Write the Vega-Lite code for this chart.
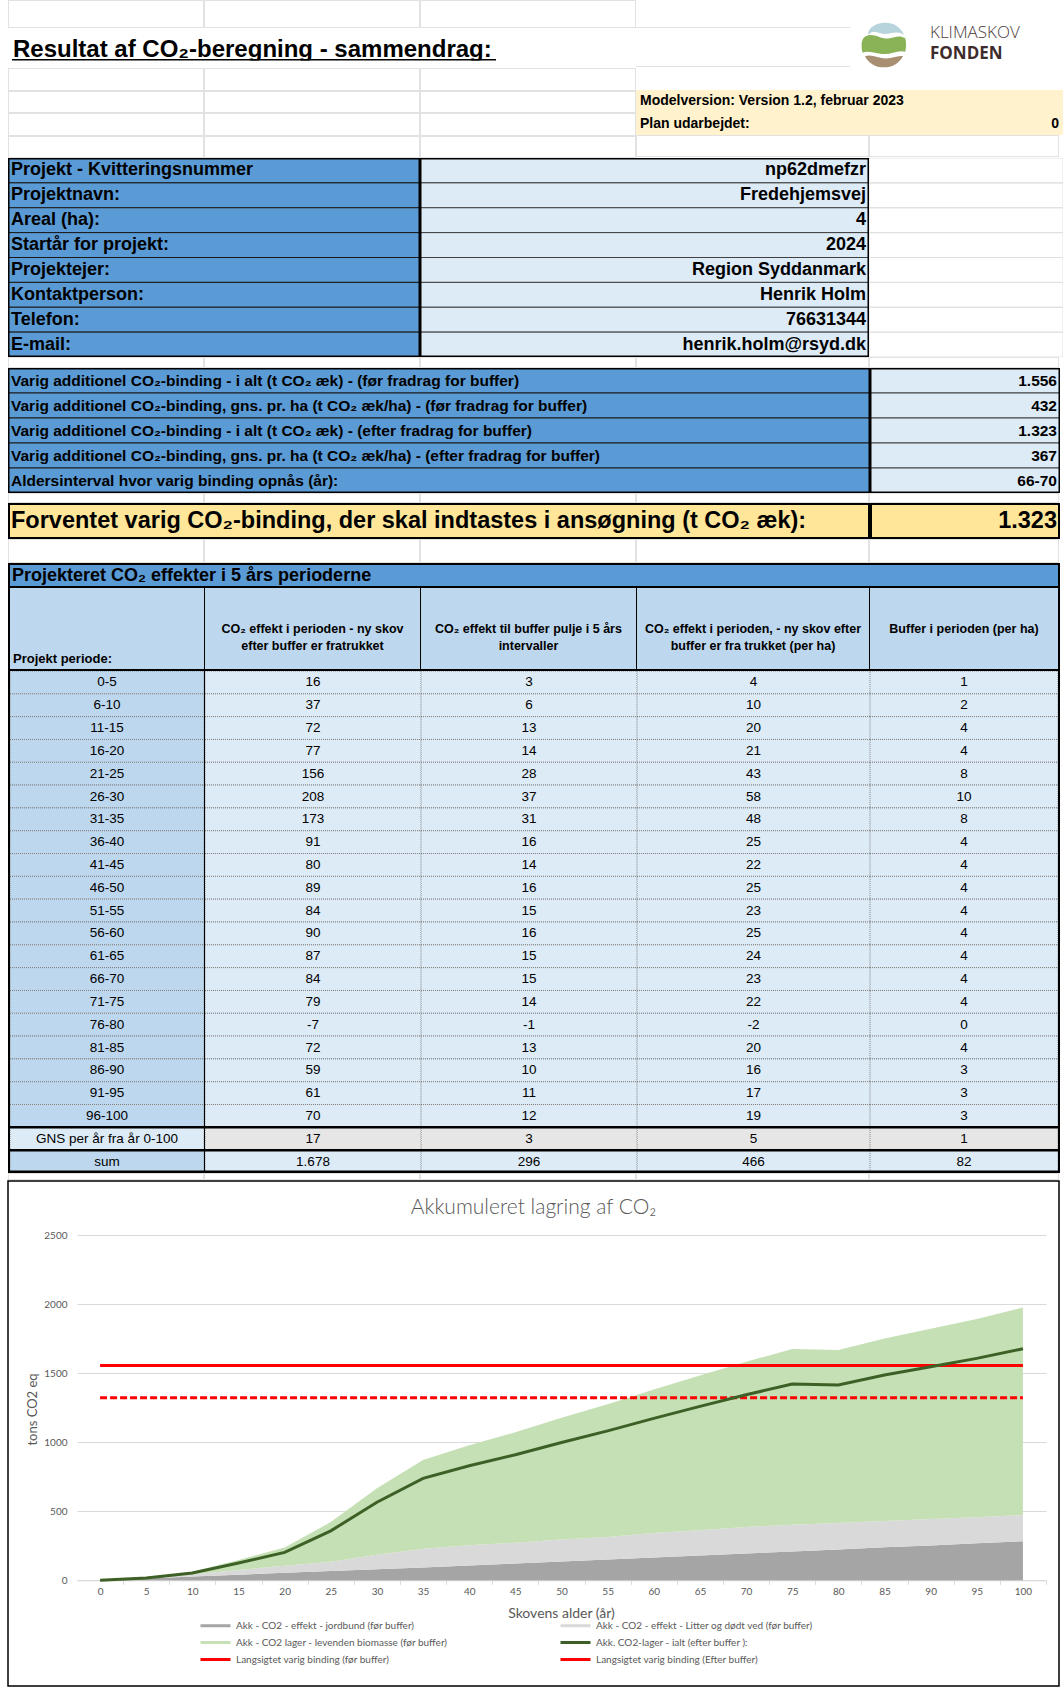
{
"$schema": "https://vega.github.io/schema/vega-lite/v6.json",
"padding": 0,
"background": "#ffffff",
"spacing": 0,
"config": {
  "view": {"stroke": null},
  "font": "Liberation Sans",
  "concat": {"spacing": 0},
  "locale": {"number": {"decimal": ",", "thousands": ".", "grouping": [3], "currency": ["", " kr."], "minus": "-"}}
},
"datasets": {
  "overskrift": [{"t": "Resultat af CO₂-beregning - sammendrag:"}],
  "logo": [{"del": "himmel"}, {"del": "skov"}, {"del": "jord"}],
  "logotekst": [{"t": "KLIMASKOV"}, {"t": "FONDEN"}],
  "model": [{"felt": "Modelversion: Version 1.2, februar 2023", "vaerdi": ""}, {"felt": "Plan udarbejdet:", "vaerdi": "0"}],
  "info": [
    {"felt": "Projekt - Kvitteringsnummer", "vaerdi": "np62dmefzr"},
    {"felt": "Projektnavn:", "vaerdi": "Fredehjemsvej"},
    {"felt": "Areal (ha):", "vaerdi": "4"},
    {"felt": "Startår for projekt:", "vaerdi": "2024"},
    {"felt": "Projektejer:", "vaerdi": "Region Syddanmark"},
    {"felt": "Kontaktperson:", "vaerdi": "Henrik Holm"},
    {"felt": "Telefon:", "vaerdi": "76631344"},
    {"felt": "E-mail:", "vaerdi": "henrik.holm@rsyd.dk"}
  ],
  "resultat": [
    {"felt": "Varig additionel CO₂-binding - i alt (t CO₂ æk) - (før fradrag for buffer)", "vaerdi": "1.556"},
    {"felt": "Varig additionel CO₂-binding, gns. pr. ha (t CO₂ æk/ha) - (før fradrag for buffer)", "vaerdi": "432"},
    {"felt": "Varig additionel CO₂-binding - i alt (t CO₂ æk) - (efter fradrag for buffer)", "vaerdi": "1.323"},
    {"felt": "Varig additionel CO₂-binding, gns. pr. ha (t CO₂ æk/ha) - (efter fradrag for buffer)", "vaerdi": "367"},
    {"felt": "Aldersinterval hvor varig binding opnås (år):", "vaerdi": "66-70"}
  ],
  "forventet": [{"felt": "Forventet varig CO₂-binding, der skal indtastes i ansøgning (t CO₂ æk):", "vaerdi": "1.323"}],
  "tabeltitel": [{"t": "Projekteret CO₂ effekter i 5 års perioderne"}],
  "kolonner": [
    {"kol": "A", "tekst": "Projekt periode:"},
    {"kol": "B", "tekst": "CO₂ effekt i perioden - ny skov\nefter buffer er fratrukket"},
    {"kol": "C", "tekst": "CO₂ effekt til buffer pulje i 5 års\nintervaller"},
    {"kol": "D", "tekst": "CO₂ effekt i perioden, - ny skov efter\nbuffer er fra trukket (per ha)"},
    {"kol": "E", "tekst": "Buffer i perioden (per ha)"}
  ],
  "perioder": [
    {"periode": "0-5", "effekt": 16, "buffer": 3, "effekt_ha": 4, "buffer_ha": 1},
    {"periode": "6-10", "effekt": 37, "buffer": 6, "effekt_ha": 10, "buffer_ha": 2},
    {"periode": "11-15", "effekt": 72, "buffer": 13, "effekt_ha": 20, "buffer_ha": 4},
    {"periode": "16-20", "effekt": 77, "buffer": 14, "effekt_ha": 21, "buffer_ha": 4},
    {"periode": "21-25", "effekt": 156, "buffer": 28, "effekt_ha": 43, "buffer_ha": 8},
    {"periode": "26-30", "effekt": 208, "buffer": 37, "effekt_ha": 58, "buffer_ha": 10},
    {"periode": "31-35", "effekt": 173, "buffer": 31, "effekt_ha": 48, "buffer_ha": 8},
    {"periode": "36-40", "effekt": 91, "buffer": 16, "effekt_ha": 25, "buffer_ha": 4},
    {"periode": "41-45", "effekt": 80, "buffer": 14, "effekt_ha": 22, "buffer_ha": 4},
    {"periode": "46-50", "effekt": 89, "buffer": 16, "effekt_ha": 25, "buffer_ha": 4},
    {"periode": "51-55", "effekt": 84, "buffer": 15, "effekt_ha": 23, "buffer_ha": 4},
    {"periode": "56-60", "effekt": 90, "buffer": 16, "effekt_ha": 25, "buffer_ha": 4},
    {"periode": "61-65", "effekt": 87, "buffer": 15, "effekt_ha": 24, "buffer_ha": 4},
    {"periode": "66-70", "effekt": 84, "buffer": 15, "effekt_ha": 23, "buffer_ha": 4},
    {"periode": "71-75", "effekt": 79, "buffer": 14, "effekt_ha": 22, "buffer_ha": 4},
    {"periode": "76-80", "effekt": -7, "buffer": -1, "effekt_ha": -2, "buffer_ha": 0},
    {"periode": "81-85", "effekt": 72, "buffer": 13, "effekt_ha": 20, "buffer_ha": 4},
    {"periode": "86-90", "effekt": 59, "buffer": 10, "effekt_ha": 16, "buffer_ha": 3},
    {"periode": "91-95", "effekt": 61, "buffer": 11, "effekt_ha": 17, "buffer_ha": 3},
    {"periode": "96-100", "effekt": 70, "buffer": 12, "effekt_ha": 19, "buffer_ha": 3},
    {"periode": "GNS per år fra år 0-100", "effekt": 17, "buffer": 3, "effekt_ha": 5, "buffer_ha": 1},
    {"periode": "sum", "effekt": 1678, "buffer": 296, "effekt_ha": 466, "buffer_ha": 82}
  ],
  "serier": [
    {"key": "jordbund", "serie": "Akk - CO2 - effekt - jordbund (før buffer)", "nr": 1},
    {"key": "litter", "serie": "Akk - CO2 - effekt - Litter og dødt ved (før buffer)", "nr": 2},
    {"key": "biomasse", "serie": "Akk - CO2 lager - levenden biomasse (før buffer)", "nr": 3},
    {"key": "ialt", "serie": "Akk. CO2-lager - ialt (efter buffer ):", "nr": 4}
  ],
  "akk": [
    {"alder": 0, "jordbund": 0, "litter": 0, "biomasse": 0, "ialt": 0},
    {"alder": 5, "jordbund": 13, "litter": 5, "biomasse": 1, "ialt": 16},
    {"alder": 10, "jordbund": 27, "litter": 15, "biomasse": 20, "ialt": 53},
    {"alder": 15, "jordbund": 40, "litter": 35, "biomasse": 72, "ialt": 125},
    {"alder": 20, "jordbund": 55, "litter": 50, "biomasse": 133, "ialt": 202},
    {"alder": 25, "jordbund": 68, "litter": 67, "biomasse": 287, "ialt": 358},
    {"alder": 30, "jordbund": 80, "litter": 105, "biomasse": 482, "ialt": 566},
    {"alder": 35, "jordbund": 92, "litter": 137, "biomasse": 642, "ialt": 739},
    {"alder": 40, "jordbund": 107, "litter": 147, "biomasse": 724, "ialt": 830},
    {"alder": 45, "jordbund": 121, "litter": 152, "biomasse": 799, "ialt": 910},
    {"alder": 50, "jordbund": 136, "litter": 159, "biomasse": 882, "ialt": 999},
    {"alder": 55, "jordbund": 151, "litter": 163, "biomasse": 962, "ialt": 1083},
    {"alder": 60, "jordbund": 165, "litter": 178, "biomasse": 1039, "ialt": 1173},
    {"alder": 65, "jordbund": 180, "litter": 182, "biomasse": 1122, "ialt": 1260},
    {"alder": 70, "jordbund": 195, "litter": 191, "biomasse": 1197, "ialt": 1344},
    {"alder": 75, "jordbund": 209, "litter": 194, "biomasse": 1273, "ialt": 1423},
    {"alder": 80, "jordbund": 224, "litter": 191, "biomasse": 1253, "ialt": 1416},
    {"alder": 85, "jordbund": 239, "litter": 191, "biomasse": 1323, "ialt": 1488},
    {"alder": 90, "jordbund": 253, "litter": 191, "biomasse": 1378, "ialt": 1547},
    {"alder": 95, "jordbund": 268, "litter": 188, "biomasse": 1438, "ialt": 1608},
    {"alder": 100, "jordbund": 283, "litter": 190, "biomasse": 1503, "ialt": 1678}
  ],
  "binding": [
    {"serie": "Langsigtet varig binding (før buffer)", "alder": 0, "v": 1556},
    {"serie": "Langsigtet varig binding (før buffer)", "alder": 100, "v": 1556},
    {"serie": "Langsigtet varig binding (Efter buffer)", "alder": 0, "v": 1323},
    {"serie": "Langsigtet varig binding (Efter buffer)", "alder": 100, "v": 1323}
  ]
},
"vconcat": [
  {"hconcat": [
    {"vconcat": [
      {"hconcat": [
        {"width": 8, "height": 28, "data": {"values": []}, "mark": "point"},
        {"width": 196, "height": 28, "data": {"name": "overskrift"}, "mark": {"type": "rect", "filled": false, "stroke": "#E2E2E2", "strokeWidth": 2, "clip": true}},
        {"width": 216, "height": 28, "data": {"name": "overskrift"}, "mark": {"type": "rect", "filled": false, "stroke": "#E2E2E2", "strokeWidth": 2, "clip": true}},
        {"width": 216, "height": 28, "data": {"name": "overskrift"}, "mark": {"type": "rect", "filled": false, "stroke": "#E2E2E2", "strokeWidth": 2, "clip": true}}
      ]},
      {"hconcat": [
        {"width": 12, "height": 39, "data": {"values": []}, "mark": "point"},
        {"vconcat": [
          {"width": 484, "height": 32.5, "data": {"name": "overskrift"},
           "layer": [
             {"mark": {"type": "text", "align": "left", "baseline": "alphabetic", "dx": 1, "dy": -3.5, "fontSize": 24, "fontWeight": "bold", "fill": "#000000", "clip": true}, "encoding": {"x": {"value": 0}, "y": {"value": "height"}, "text": {"field": "t", "type": "nominal"}}},
             {"mark": {"type": "rule", "stroke": "#000000", "strokeWidth": 3, "clip": true}, "encoding": {"y": {"value": "height"}}}
           ]},
          {"width": 484, "height": 6.5, "data": {"values": []}, "mark": "point"}
        ]},
        {"width": 140, "height": 39, "data": {"values": []}, "mark": "point"}
      ]},
      {"hconcat": [
        {"width": 8, "height": 23, "data": {"values": []}, "mark": "point"},
        {"width": 196, "height": 23, "data": {"name": "overskrift"}, "mark": {"type": "rect", "filled": false, "stroke": "#E2E2E2", "strokeWidth": 2, "clip": true}},
        {"width": 216, "height": 23, "data": {"name": "overskrift"}, "mark": {"type": "rect", "filled": false, "stroke": "#E2E2E2", "strokeWidth": 2, "clip": true}},
        {"width": 216, "height": 23, "data": {"name": "overskrift"}, "mark": {"type": "rect", "filled": false, "stroke": "#E2E2E2", "strokeWidth": 2, "clip": true}}
      ]},
      {"hconcat": [
        {"width": 8, "height": 22, "data": {"values": []}, "mark": "point"},
        {"width": 196, "height": 22, "data": {"name": "overskrift"}, "mark": {"type": "rect", "filled": false, "stroke": "#E2E2E2", "strokeWidth": 2, "clip": true}},
        {"width": 216, "height": 22, "data": {"name": "overskrift"}, "mark": {"type": "rect", "filled": false, "stroke": "#E2E2E2", "strokeWidth": 2, "clip": true}},
        {"width": 216, "height": 22, "data": {"name": "overskrift"}, "mark": {"type": "rect", "filled": false, "stroke": "#E2E2E2", "strokeWidth": 2, "clip": true}}
      ]},
      {"hconcat": [
        {"width": 8, "height": 23, "data": {"values": []}, "mark": "point"},
        {"width": 196, "height": 23, "data": {"name": "overskrift"}, "mark": {"type": "rect", "filled": false, "stroke": "#E2E2E2", "strokeWidth": 2, "clip": true}},
        {"width": 216, "height": 23, "data": {"name": "overskrift"}, "mark": {"type": "rect", "filled": false, "stroke": "#E2E2E2", "strokeWidth": 2, "clip": true}},
        {"width": 216, "height": 23, "data": {"name": "overskrift"}, "mark": {"type": "rect", "filled": false, "stroke": "#E2E2E2", "strokeWidth": 2, "clip": true}}
      ]},
      {"hconcat": [
        {"width": 8, "height": 22, "data": {"values": []}, "mark": "point"},
        {"width": 196, "height": 22, "data": {"name": "overskrift"}, "mark": {"type": "rect", "filled": false, "stroke": "#E2E2E2", "strokeWidth": 2, "clip": true}},
        {"width": 216, "height": 22, "data": {"name": "overskrift"}, "mark": {"type": "rect", "filled": false, "stroke": "#E2E2E2", "strokeWidth": 2, "clip": true}},
        {"width": 216, "height": 22, "data": {"name": "overskrift"}, "mark": {"type": "rect", "filled": false, "stroke": "#E2E2E2", "strokeWidth": 2, "clip": true}}
      ]}
    ]},
    {"vconcat": [
      {"hconcat": [
        {"vconcat": [
          {"width": 214, "height": 28, "data": {"name": "overskrift"}, "mark": {"type": "rule", "stroke": "#E2E2E2", "strokeWidth": 2, "clip": true}, "encoding": {"y": {"value": "height"}}},
          {"width": 214, "height": 39, "data": {"name": "overskrift"}, "mark": {"type": "rule", "stroke": "#E2E2E2", "strokeWidth": 2, "clip": true}, "encoding": {"y": {"value": "height"}}},
          {"width": 214, "height": 23, "data": {"values": []}, "mark": "point"}
        ]},
        {"width": 10, "height": 90, "data": {"values": []}, "mark": "point"},
        {"width": 48, "height": 90, "data": {"name": "logo"}, "mark": {"type": "point", "filled": true, "size": 2000, "opacity": 1},
         "encoding": {
           "shape": {"field": "del", "type": "nominal", "legend": null, "scale": {"domain": ["himmel", "skov", "jord"], "range": [
             "M-0.7,-0.45 C-0.75,-0.8 -0.3,-1 0.05,-1 C0.45,-1 0.75,-0.8 0.9,-0.45 C0.55,-0.7 0.25,-0.45 -0.05,-0.5 C-0.35,-0.55 -0.5,-0.7 -0.7,-0.45 Z",
             "M-1,0 C-1,-0.3 -0.85,-0.45 -0.6,-0.45 C-0.3,-0.45 -0.1,-0.25 0.25,-0.3 C0.5,-0.35 0.7,-0.45 0.95,-0.3 C1,-0.1 1,0.1 0.95,0.3 C0.6,0.2 0.3,0.45 -0.1,0.4 C-0.5,0.35 -0.75,0.25 -0.95,0.35 C-1,0.25 -1,0.1 -1,0 Z",
             "M-0.85,0.5 C-0.55,0.4 -0.25,0.6 0.1,0.6 C0.4,0.6 0.6,0.45 0.85,0.5 C0.65,0.85 0.35,1 0,1 C-0.4,1 -0.7,0.8 -0.85,0.5 Z"]}},
           "fill": {"field": "del", "type": "nominal", "legend": null, "scale": {"domain": ["himmel", "skov", "jord"], "range": ["#B7D3DC", "#8AB257", "#A88F72"]}}
         }},
        {"width": 22, "height": 90, "data": {"values": []}, "mark": "point"},
        {"vconcat": [
          {"width": 133, "height": 22, "data": {"values": []}, "mark": "point"},
          {"width": 133, "height": 21, "data": {"name": "logotekst"}, "transform": [{"filter": "datum.t === 'KLIMASKOV'"}],
           "mark": {"type": "text", "align": "left", "baseline": "middle", "font": "Open Sans", "fontSize": 17, "fontWeight": 300, "fill": "#4B3B3B", "clip": true},
           "encoding": {"x": {"value": 0}, "text": {"field": "t", "type": "nominal"}}},
          {"width": 133, "height": 21, "data": {"name": "logotekst"}, "transform": [{"filter": "datum.t === 'FONDEN'"}],
           "mark": {"type": "text", "align": "left", "baseline": "middle", "font": "Open Sans", "fontSize": 17, "fontWeight": "bold", "fill": "#3E2C2C", "clip": true},
           "encoding": {"x": {"value": 0}, "text": {"field": "t", "type": "nominal"}}},
          {"width": 133, "height": 26, "data": {"values": []}, "mark": "point"}
        ]}
      ]},
      {"width": 427, "height": 45, "data": {"name": "model"}, "view": {"fill": "#FFF2CC"},
       "encoding": {"y": {"field": "felt", "type": "nominal", "sort": null, "axis": null, "scale": {"paddingInner": 0, "paddingOuter": 0}}},
       "layer": [
         {"mark": {"type": "text", "align": "left", "dx": 4, "fontSize": 14, "fontWeight": "bold", "fill": "#000000", "clip": true}, "encoding": {"x": {"value": 0}, "text": {"field": "felt", "type": "nominal"}}},
         {"mark": {"type": "text", "align": "right", "dx": -4, "fontSize": 14, "fontWeight": "bold", "fill": "#000000", "clip": true}, "encoding": {"x": {"value": "width"}, "text": {"field": "vaerdi", "type": "nominal"}}}
       ]},
      {"hconcat": [
        {"width": 233, "height": 22, "data": {"name": "overskrift"}, "mark": {"type": "rect", "filled": false, "stroke": "#E2E2E2", "strokeWidth": 2, "clip": true}},
        {"width": 190, "height": 22, "data": {"name": "overskrift"}, "mark": {"type": "rect", "filled": false, "stroke": "#E2E2E2", "strokeWidth": 2, "clip": true}},
        {"width": 4, "height": 22, "data": {"values": []}, "mark": "point"}
      ]}
    ]}
  ]},

  {"hconcat": [
    {"width": 8, "height": 199, "data": {"values": []}, "mark": "point"},
    {"width": 412, "height": 199, "data": {"name": "info"},
     "layer": [
       {"mark": {"type": "rect", "fill": "#5B9BD5", "stroke": "#1A1A1A", "strokeWidth": 1, "clip": true}, "encoding": {"y": {"field": "felt", "type": "nominal", "sort": null, "axis": null, "scale": {"paddingInner": 0, "paddingOuter": 0}}}},
       {"mark": {"type": "text", "align": "left", "dx": 3, "fontSize": 18, "fontWeight": "bold", "fill": "#000000", "clip": true}, "encoding": {"y": {"field": "felt", "type": "nominal", "sort": null}, "x": {"value": 0}, "text": {"field": "felt", "type": "nominal"}}},
       {"transform": [{"filter": "datum.felt === 'E-mail:'"}], "mark": {"type": "rect", "filled": false, "stroke": "#000000", "strokeWidth": 3, "clip": true}}
     ]},
    {"width": 449, "height": 199, "data": {"name": "info"},
     "layer": [
       {"mark": {"type": "rect", "fill": "#DDEBF7", "stroke": "#404040", "strokeWidth": 1, "clip": true}, "encoding": {"y": {"field": "felt", "type": "nominal", "sort": null, "axis": null, "scale": {"paddingInner": 0, "paddingOuter": 0}}}},
       {"mark": {"type": "text", "align": "right", "dx": -3, "fontSize": 18, "fontWeight": "bold", "fill": "#000000", "clip": true}, "encoding": {"y": {"field": "felt", "type": "nominal", "sort": null}, "x": {"value": "width"}, "text": {"field": "vaerdi", "type": "nominal"}}},
       {"transform": [{"filter": "datum.felt === 'E-mail:'"}], "mark": {"type": "rect", "filled": false, "stroke": "#000000", "strokeWidth": 3, "clip": true}}
     ]},
    {"width": 194, "height": 199, "data": {"name": "info"},
     "encoding": {"y": {"field": "felt", "type": "nominal", "sort": null, "axis": null, "scale": {"paddingInner": 0, "paddingOuter": 0}}},
     "mark": {"type": "rect", "filled": false, "stroke": "#E0E0E0", "strokeWidth": 1, "clip": true}}
  ]},

  {"hconcat": [
    {"width": 8, "height": 11, "data": {"values": []}, "mark": "point"},
    {"width": 196, "height": 11, "data": {"name": "overskrift"}, "mark": {"type": "rect", "filled": false, "stroke": "#E2E2E2", "strokeWidth": 2, "clip": true}},
    {"width": 216, "height": 11, "data": {"name": "overskrift"}, "mark": {"type": "rect", "filled": false, "stroke": "#E2E2E2", "strokeWidth": 2, "clip": true}},
    {"width": 216, "height": 11, "data": {"name": "overskrift"}, "mark": {"type": "rect", "filled": false, "stroke": "#E2E2E2", "strokeWidth": 2, "clip": true}},
    {"width": 233, "height": 11, "data": {"name": "overskrift"}, "mark": {"type": "rect", "filled": false, "stroke": "#E2E2E2", "strokeWidth": 2, "clip": true}},
    {"width": 190, "height": 11, "data": {"name": "overskrift"}, "mark": {"type": "rect", "filled": false, "stroke": "#E2E2E2", "strokeWidth": 2, "clip": true}},
    {"width": 4, "height": 11, "data": {"values": []}, "mark": "point"}
  ]},

  {"hconcat": [
    {"width": 8, "height": 125, "data": {"values": []}, "mark": "point"},
    {"width": 862, "height": 125, "data": {"name": "resultat"},
     "layer": [
       {"mark": {"type": "rect", "fill": "#5B9BD5", "stroke": "#1A1A1A", "strokeWidth": 1, "clip": true}, "encoding": {"y": {"field": "felt", "type": "nominal", "sort": null, "axis": null, "scale": {"paddingInner": 0, "paddingOuter": 0}}}},
       {"mark": {"type": "text", "align": "left", "dx": 3, "fontSize": 15.5, "fontWeight": "bold", "fill": "#000000", "clip": true}, "encoding": {"y": {"field": "felt", "type": "nominal", "sort": null}, "x": {"value": 0}, "text": {"field": "felt", "type": "nominal"}}},
       {"transform": [{"filter": "datum.vaerdi === '66-70'"}], "mark": {"type": "rect", "filled": false, "stroke": "#000000", "strokeWidth": 3, "clip": true}}
     ]},
    {"width": 190, "height": 125, "data": {"name": "resultat"},
     "layer": [
       {"mark": {"type": "rect", "fill": "#DDEBF7", "stroke": "#404040", "strokeWidth": 1, "clip": true}, "encoding": {"y": {"field": "felt", "type": "nominal", "sort": null, "axis": null, "scale": {"paddingInner": 0, "paddingOuter": 0}}}},
       {"mark": {"type": "text", "align": "right", "dx": -3, "fontSize": 15.5, "fontWeight": "bold", "fill": "#000000", "clip": true}, "encoding": {"y": {"field": "felt", "type": "nominal", "sort": null}, "x": {"value": "width"}, "text": {"field": "vaerdi", "type": "nominal"}}},
       {"transform": [{"filter": "datum.vaerdi === '66-70'"}], "mark": {"type": "rect", "filled": false, "stroke": "#000000", "strokeWidth": 3, "clip": true}}
     ]},
    {"width": 3, "height": 125, "data": {"values": []}, "mark": "point"}
  ]},

  {"hconcat": [
    {"width": 8, "height": 10, "data": {"values": []}, "mark": "point"},
    {"width": 196, "height": 10, "data": {"name": "overskrift"}, "mark": {"type": "rect", "filled": false, "stroke": "#E2E2E2", "strokeWidth": 2, "clip": true}},
    {"width": 216, "height": 10, "data": {"name": "overskrift"}, "mark": {"type": "rect", "filled": false, "stroke": "#E2E2E2", "strokeWidth": 2, "clip": true}},
    {"width": 216, "height": 10, "data": {"name": "overskrift"}, "mark": {"type": "rect", "filled": false, "stroke": "#E2E2E2", "strokeWidth": 2, "clip": true}},
    {"width": 233, "height": 10, "data": {"name": "overskrift"}, "mark": {"type": "rect", "filled": false, "stroke": "#E2E2E2", "strokeWidth": 2, "clip": true}},
    {"width": 190, "height": 10, "data": {"name": "overskrift"}, "mark": {"type": "rect", "filled": false, "stroke": "#E2E2E2", "strokeWidth": 2, "clip": true}},
    {"width": 4, "height": 10, "data": {"values": []}, "mark": "point"}
  ]},

  {"hconcat": [
    {"width": 8, "height": 36, "data": {"values": []}, "mark": "point"},
    {"width": 862, "height": 36, "data": {"name": "forventet"}, "view": {"fill": "#FFE699"},
     "layer": [
       {"mark": {"type": "text", "align": "left", "dx": 3, "fontSize": 23.5, "fontWeight": "bold", "fill": "#000000", "clip": true}, "encoding": {"x": {"value": 0}, "text": {"field": "felt", "type": "nominal"}}},
       {"mark": {"type": "rect", "filled": false, "stroke": "#000000", "strokeWidth": 4, "clip": true}}
     ]},
    {"width": 190, "height": 36, "data": {"name": "forventet"}, "view": {"fill": "#FFE699"},
     "layer": [
       {"mark": {"type": "text", "align": "right", "dx": -3, "fontSize": 23.5, "fontWeight": "bold", "fill": "#000000", "clip": true}, "encoding": {"x": {"value": "width"}, "text": {"field": "vaerdi", "type": "nominal"}}},
       {"mark": {"type": "rect", "filled": false, "stroke": "#000000", "strokeWidth": 4, "clip": true}}
     ]},
    {"width": 3, "height": 36, "data": {"values": []}, "mark": "point"}
  ]},

  {"hconcat": [
    {"width": 8, "height": 24, "data": {"values": []}, "mark": "point"},
    {"width": 196, "height": 24, "data": {"name": "overskrift"}, "mark": {"type": "rect", "filled": false, "stroke": "#E2E2E2", "strokeWidth": 2, "clip": true}},
    {"width": 216, "height": 24, "data": {"name": "overskrift"}, "mark": {"type": "rect", "filled": false, "stroke": "#E2E2E2", "strokeWidth": 2, "clip": true}},
    {"width": 216, "height": 24, "data": {"name": "overskrift"}, "mark": {"type": "rect", "filled": false, "stroke": "#E2E2E2", "strokeWidth": 2, "clip": true}},
    {"width": 233, "height": 24, "data": {"name": "overskrift"}, "mark": {"type": "rect", "filled": false, "stroke": "#E2E2E2", "strokeWidth": 2, "clip": true}},
    {"width": 190, "height": 24, "data": {"name": "overskrift"}, "mark": {"type": "rect", "filled": false, "stroke": "#E2E2E2", "strokeWidth": 2, "clip": true}},
    {"width": 4, "height": 24, "data": {"values": []}, "mark": "point"}
  ]},

  {"hconcat": [
    {"width": 8, "height": 25, "data": {"values": []}, "mark": "point"},
    {"width": 1052, "height": 25, "data": {"name": "tabeltitel"}, "view": {"fill": "#5B9BD5"},
     "layer": [
       {"mark": {"type": "text", "align": "left", "dx": 4, "fontSize": 18, "fontWeight": "bold", "fill": "#000000", "clip": true}, "encoding": {"x": {"value": 0}, "text": {"field": "t", "type": "nominal"}}},
       {"mark": {"type": "rect", "filled": false, "stroke": "#000000", "strokeWidth": 4, "clip": true}}
     ]},
    {"width": 3, "height": 25, "data": {"values": []}, "mark": "point"}
  ]},

  {"hconcat": [
    {"width": 8, "height": 81, "data": {"values": []}, "mark": "point"},
    {"width": 2, "height": 81, "data": {"values": []}, "mark": "point", "view": {"fill": "#000000"}},
    {"width": 194, "height": 81, "data": {"name": "kolonner"}, "transform": [{"filter": "datum.kol === 'A'"}], "view": {"fill": "#BDD7EE"},
     "mark": {"type": "text", "align": "left", "baseline": "bottom", "dx": 3, "dy": -3, "fontSize": 13, "fontWeight": "bold", "fill": "#000000", "clip": true},
     "encoding": {"x": {"value": 0}, "y": {"value": "height"}, "text": {"field": "tekst", "type": "nominal"}}},
    {"width": 1, "height": 81, "data": {"values": []}, "mark": "point", "view": {"fill": "#000000"}},
    {"width": 215, "height": 81, "data": {"name": "kolonner"}, "transform": [{"filter": "datum.kol === 'B'"}], "view": {"fill": "#BDD7EE"},
     "mark": {"type": "text", "align": "center", "baseline": "middle", "lineBreak": "\n", "lineHeight": 17, "fontSize": 12.5, "fontWeight": "bold", "fill": "#000000", "clip": true},
     "encoding": {"text": {"field": "tekst", "type": "nominal"}}},
    {"width": 1, "height": 81, "data": {"values": []}, "mark": "point", "view": {"fill": "#000000"}},
    {"width": 215, "height": 81, "data": {"name": "kolonner"}, "transform": [{"filter": "datum.kol === 'C'"}], "view": {"fill": "#BDD7EE"},
     "mark": {"type": "text", "align": "center", "baseline": "middle", "lineBreak": "\n", "lineHeight": 17, "fontSize": 12.5, "fontWeight": "bold", "fill": "#000000", "clip": true},
     "encoding": {"text": {"field": "tekst", "type": "nominal"}}},
    {"width": 1, "height": 81, "data": {"values": []}, "mark": "point", "view": {"fill": "#000000"}},
    {"width": 232, "height": 81, "data": {"name": "kolonner"}, "transform": [{"filter": "datum.kol === 'D'"}], "view": {"fill": "#BDD7EE"},
     "mark": {"type": "text", "align": "center", "baseline": "middle", "lineBreak": "\n", "lineHeight": 17, "fontSize": 12.5, "fontWeight": "bold", "fill": "#000000", "clip": true},
     "encoding": {"text": {"field": "tekst", "type": "nominal"}}},
    {"width": 1, "height": 81, "data": {"values": []}, "mark": "point", "view": {"fill": "#000000"}},
    {"width": 188, "height": 81, "data": {"name": "kolonner"}, "transform": [{"filter": "datum.kol === 'E'"}], "view": {"fill": "#BDD7EE"},
     "mark": {"type": "text", "align": "center", "baseline": "middle", "lineBreak": "\n", "lineHeight": 17, "fontSize": 12.5, "fontWeight": "bold", "fill": "#000000", "clip": true},
     "encoding": {"text": {"field": "tekst", "type": "nominal"}}},
    {"width": 2, "height": 81, "data": {"values": []}, "mark": "point", "view": {"fill": "#000000"}},
    {"width": 3, "height": 81, "data": {"values": []}, "mark": "point"}
  ]},
  {"hconcat": [
    {"width": 8, "height": 2, "data": {"values": []}, "mark": "point"},
    {"width": 1052, "height": 2, "data": {"values": []}, "mark": "point", "view": {"fill": "#000000"}},
    {"width": 3, "height": 2, "data": {"values": []}, "mark": "point"}
  ]},

  {"hconcat": [
    {"width": 8, "height": 502, "data": {"values": []}, "mark": "point"},
    {"width": 2, "height": 502, "data": {"values": []}, "mark": "point", "view": {"fill": "#000000"}},
    {"width": 194, "height": 502, "data": {"name": "perioder"},
     "encoding": {"y": {"field": "periode", "type": "nominal", "sort": null, "axis": null, "scale": {"paddingInner": 0, "paddingOuter": 0}}},
     "layer": [
       {"mark": {"type": "rect", "stroke": "#808080", "strokeDash": [1, 1], "strokeWidth": 1, "clip": true}, "encoding": {"fill": {"condition": {"test": "datum.periode === 'GNS per år fra år 0-100'", "value": "#DDEBF7"}, "value": "#BDD7EE"}}},
       {"mark": {"type": "rule", "stroke": "#000000", "strokeWidth": 2.5, "clip": true}, "encoding": {"y": {"field": "periode", "type": "nominal", "sort": null, "bandPosition": 0}, "strokeOpacity": {"condition": {"test": "datum.periode === 'GNS per år fra år 0-100' || datum.periode === 'sum'", "value": 1}, "value": 0}}},
       {"mark": {"type": "rule", "stroke": "#000000", "strokeWidth": 5, "clip": true}, "encoding": {"y": {"field": "periode", "type": "nominal", "sort": null, "bandPosition": 1}, "strokeOpacity": {"condition": {"test": "datum.periode === 'sum'", "value": 1}, "value": 0}}},
       {"mark": {"type": "text", "fontSize": 13.5, "fill": "#000000", "clip": true}, "encoding": {"text": {"field": "periode", "type": "nominal"}}}
     ]},
    {"width": 1, "height": 502, "data": {"values": []}, "mark": "point", "view": {"fill": "#000000"}},
    {"width": 216, "height": 502, "data": {"name": "perioder"},
     "encoding": {"y": {"field": "periode", "type": "nominal", "sort": null, "axis": null, "scale": {"paddingInner": 0, "paddingOuter": 0}}},
     "layer": [
       {"mark": {"type": "rect", "stroke": "#808080", "strokeDash": [1, 1], "strokeWidth": 1, "clip": true}, "encoding": {"fill": {"condition": {"test": "datum.periode === 'GNS per år fra år 0-100'", "value": "#E7E6E6"}, "value": "#DDEBF7"}}},
       {"mark": {"type": "rule", "stroke": "#000000", "strokeWidth": 2.5, "clip": true}, "encoding": {"y": {"field": "periode", "type": "nominal", "sort": null, "bandPosition": 0}, "strokeOpacity": {"condition": {"test": "datum.periode === 'GNS per år fra år 0-100' || datum.periode === 'sum'", "value": 1}, "value": 0}}},
       {"mark": {"type": "rule", "stroke": "#000000", "strokeWidth": 5, "clip": true}, "encoding": {"y": {"field": "periode", "type": "nominal", "sort": null, "bandPosition": 1}, "strokeOpacity": {"condition": {"test": "datum.periode === 'sum'", "value": 1}, "value": 0}}},
       {"mark": {"type": "text", "fontSize": 13.5, "fill": "#000000", "clip": true}, "encoding": {"text": {"field": "effekt", "type": "quantitative", "format": ",d"}}}
     ]},
    {"width": 216, "height": 502, "data": {"name": "perioder"},
     "encoding": {"y": {"field": "periode", "type": "nominal", "sort": null, "axis": null, "scale": {"paddingInner": 0, "paddingOuter": 0}}},
     "layer": [
       {"mark": {"type": "rect", "stroke": "#808080", "strokeDash": [1, 1], "strokeWidth": 1, "clip": true}, "encoding": {"fill": {"condition": {"test": "datum.periode === 'GNS per år fra år 0-100'", "value": "#E7E6E6"}, "value": "#DDEBF7"}}},
       {"mark": {"type": "rule", "stroke": "#000000", "strokeWidth": 2.5, "clip": true}, "encoding": {"y": {"field": "periode", "type": "nominal", "sort": null, "bandPosition": 0}, "strokeOpacity": {"condition": {"test": "datum.periode === 'GNS per år fra år 0-100' || datum.periode === 'sum'", "value": 1}, "value": 0}}},
       {"mark": {"type": "rule", "stroke": "#000000", "strokeWidth": 5, "clip": true}, "encoding": {"y": {"field": "periode", "type": "nominal", "sort": null, "bandPosition": 1}, "strokeOpacity": {"condition": {"test": "datum.periode === 'sum'", "value": 1}, "value": 0}}},
       {"mark": {"type": "text", "fontSize": 13.5, "fill": "#000000", "clip": true}, "encoding": {"text": {"field": "buffer", "type": "quantitative", "format": ",d"}}}
     ]},
    {"width": 233, "height": 502, "data": {"name": "perioder"},
     "encoding": {"y": {"field": "periode", "type": "nominal", "sort": null, "axis": null, "scale": {"paddingInner": 0, "paddingOuter": 0}}},
     "layer": [
       {"mark": {"type": "rect", "stroke": "#808080", "strokeDash": [1, 1], "strokeWidth": 1, "clip": true}, "encoding": {"fill": {"condition": {"test": "datum.periode === 'GNS per år fra år 0-100'", "value": "#E7E6E6"}, "value": "#DDEBF7"}}},
       {"mark": {"type": "rule", "stroke": "#000000", "strokeWidth": 2.5, "clip": true}, "encoding": {"y": {"field": "periode", "type": "nominal", "sort": null, "bandPosition": 0}, "strokeOpacity": {"condition": {"test": "datum.periode === 'GNS per år fra år 0-100' || datum.periode === 'sum'", "value": 1}, "value": 0}}},
       {"mark": {"type": "rule", "stroke": "#000000", "strokeWidth": 5, "clip": true}, "encoding": {"y": {"field": "periode", "type": "nominal", "sort": null, "bandPosition": 1}, "strokeOpacity": {"condition": {"test": "datum.periode === 'sum'", "value": 1}, "value": 0}}},
       {"mark": {"type": "text", "fontSize": 13.5, "fill": "#000000", "clip": true}, "encoding": {"text": {"field": "effekt_ha", "type": "quantitative", "format": ",d"}}}
     ]},
    {"width": 188, "height": 502, "data": {"name": "perioder"},
     "encoding": {"y": {"field": "periode", "type": "nominal", "sort": null, "axis": null, "scale": {"paddingInner": 0, "paddingOuter": 0}}},
     "layer": [
       {"mark": {"type": "rect", "stroke": "#808080", "strokeDash": [1, 1], "strokeWidth": 1, "clip": true}, "encoding": {"fill": {"condition": {"test": "datum.periode === 'GNS per år fra år 0-100'", "value": "#E7E6E6"}, "value": "#DDEBF7"}}},
       {"mark": {"type": "rule", "stroke": "#000000", "strokeWidth": 2.5, "clip": true}, "encoding": {"y": {"field": "periode", "type": "nominal", "sort": null, "bandPosition": 0}, "strokeOpacity": {"condition": {"test": "datum.periode === 'GNS per år fra år 0-100' || datum.periode === 'sum'", "value": 1}, "value": 0}}},
       {"mark": {"type": "rule", "stroke": "#000000", "strokeWidth": 5, "clip": true}, "encoding": {"y": {"field": "periode", "type": "nominal", "sort": null, "bandPosition": 1}, "strokeOpacity": {"condition": {"test": "datum.periode === 'sum'", "value": 1}, "value": 0}}},
       {"mark": {"type": "text", "fontSize": 13.5, "fill": "#000000", "clip": true}, "encoding": {"text": {"field": "buffer_ha", "type": "quantitative", "format": ",d"}}}
     ]},
    {"width": 2, "height": 502, "data": {"values": []}, "mark": "point", "view": {"fill": "#000000"}},
    {"width": 3, "height": 502, "data": {"values": []}, "mark": "point"}
  ]},

  {"hconcat": [
    {"width": 8, "height": 7, "data": {"values": []}, "mark": "point"},
    {"width": 196, "height": 7, "data": {"name": "overskrift"}, "mark": {"type": "rect", "filled": false, "stroke": "#E2E2E2", "strokeWidth": 2, "clip": true}},
    {"width": 216, "height": 7, "data": {"name": "overskrift"}, "mark": {"type": "rect", "filled": false, "stroke": "#E2E2E2", "strokeWidth": 2, "clip": true}},
    {"width": 216, "height": 7, "data": {"name": "overskrift"}, "mark": {"type": "rect", "filled": false, "stroke": "#E2E2E2", "strokeWidth": 2, "clip": true}},
    {"width": 233, "height": 7, "data": {"name": "overskrift"}, "mark": {"type": "rect", "filled": false, "stroke": "#E2E2E2", "strokeWidth": 2, "clip": true}},
    {"width": 190, "height": 7, "data": {"name": "overskrift"}, "mark": {"type": "rect", "filled": false, "stroke": "#E2E2E2", "strokeWidth": 2, "clip": true}},
    {"width": 4, "height": 7, "data": {"values": []}, "mark": "point"}
  ]},

  {"hconcat": [
    {"width": 7, "height": 505, "data": {"values": []}, "mark": "point"},
    {"width": 1051, "height": 505, "view": {"stroke": "#000000", "strokeWidth": 1.5},
     "title": {"text": "Akkumuleret lagring af CO₂", "anchor": "middle", "frame": "group", "orient": "top", "offset": -48, "baseline": "middle", "font": "Lato", "fontSize": 21, "fontWeight": 300, "color": "#595959"},
     "encoding": {
       "x": {"field": "alder", "type": "quantitative",
             "scale": {"domain": [-2.5, 102.5], "range": [69, 1038], "nice": false, "zero": false},
             "axis": {"values": [0, 5, 10, 15, 20, 25, 30, 35, 40, 45, 50, 55, 60, 65, 70, 75, 80, 85, 90, 95, 100], "format": "d", "offset": -105.7, "grid": false,
                      "ticks": true, "tickSize": 4, "tickColor": "#D9D9D9", "tickOffset": 23.07, "labelOffset": -23.07,
                      "domain": true, "domainColor": "#D9D9D9", "domainWidth": 1,
                      "labelFont": "Lato", "labelFontSize": 10, "labelColor": "#595959", "labelPadding": 2,
                      "title": "Skovens alder (år)", "titleFont": "Lato", "titleFontSize": 14, "titleFontWeight": "normal", "titleColor": "#595959", "titleX": 553, "titleY": 33, "titleBaseline": "middle"}},
       "y": {"field": "v", "type": "quantitative",
             "scale": {"domain": [0, 2500], "range": [399.3, 54.3], "nice": false, "zero": false},
             "axis": {"values": [0, 500, 1000, 1500, 2000, 2500], "format": "d", "offset": -69, "grid": true, "gridColor": "#D9D9D9", "gridWidth": 1, "ticks": false, "domain": false,
                      "labelFont": "Lato", "labelFontSize": 10, "labelColor": "#595959", "labelPadding": 10,
                      "title": "tons CO2 eq", "titleFont": "Lato", "titleFontSize": 13, "titleFontWeight": "normal", "titleColor": "#595959", "titleX": -38, "titleY": 228}}
     },
     "layer": [
       {"data": {"name": "akk"},
        "transform": [
          {"fold": ["jordbund", "litter", "biomasse"], "as": ["key", "v"]},
          {"lookup": "key", "from": {"data": {"name": "serier"}, "key": "key", "fields": ["serie", "nr"]}}
        ],
        "mark": {"type": "area", "opacity": 1},
        "encoding": {
          "y": {"field": "v", "type": "quantitative", "stack": "zero"},
          "order": {"field": "nr", "type": "quantitative"},
          "color": {"field": "serie", "type": "nominal",
            "scale": {"domain": ["Akk - CO2 - effekt - jordbund (før buffer)", "Akk - CO2 - effekt - Litter og dødt ved (før buffer)", "Akk - CO2 lager - levenden biomasse (før buffer)", "Akk. CO2-lager - ialt (efter buffer ):", "Langsigtet varig binding (før buffer)", "Langsigtet varig binding (Efter buffer)"],
                      "range": ["#A5A5A5", "#D9D9D9", "#C5E0B4", "#3D6026", "#FF0000", "#FF0000"]},
            "legend": {"orient": "none", "legendX": 209, "legendY": 1619, "columns": 2, "direction": "horizontal", "title": null,
                       "symbolType": "M-3,0H3", "symbolSize": 100, "symbolStrokeWidth": 3,
                       "labelFont": "Lato", "labelFontSize": 10, "labelColor": "#595959", "labelLimit": 400,
                       "columnPadding": 106, "rowPadding": 4, "labelOffset": 14,
                       "encode": {"symbols": {"update": {
                         "stroke": {"signal": "datum.index < 3 ? ['#A5A5A5', '#D9D9D9', '#C5E0B4'][datum.index] : (datum.index === 3 ? '#3D6026' : '#FF0000')"},
                         "strokeWidth": {"signal": "datum.index < 3 ? 6 : 3"},
                         "strokeDash": {"signal": "datum.index === 5 ? [7, 3] : [1, 0]"},
                         "fill": {"value": "transparent"},
                         "opacity": {"value": 1}
                       }}}}
          }
        }},
       {"data": {"name": "binding"}, "mark": {"type": "line", "strokeWidth": 3},
        "encoding": {
          "color": {"field": "serie", "type": "nominal"},
          "strokeDash": {"condition": {"test": "datum.serie === 'Langsigtet varig binding (Efter buffer)'", "value": [7, 3]}, "value": [1, 0]}
        }},
       {"data": {"name": "akk"},
        "transform": [
          {"fold": ["ialt"], "as": ["key", "v"]},
          {"lookup": "key", "from": {"data": {"name": "serier"}, "key": "key", "fields": ["serie", "nr"]}}
        ],
        "mark": {"type": "line", "strokeWidth": 3},
        "encoding": {"color": {"field": "serie", "type": "nominal"}}}
     ]},
    {"width": 5, "height": 505, "data": {"values": []}, "mark": "point"}
  ]},

  {"width": 1063, "height": 4, "data": {"values": []}, "mark": "point"}
]
}
